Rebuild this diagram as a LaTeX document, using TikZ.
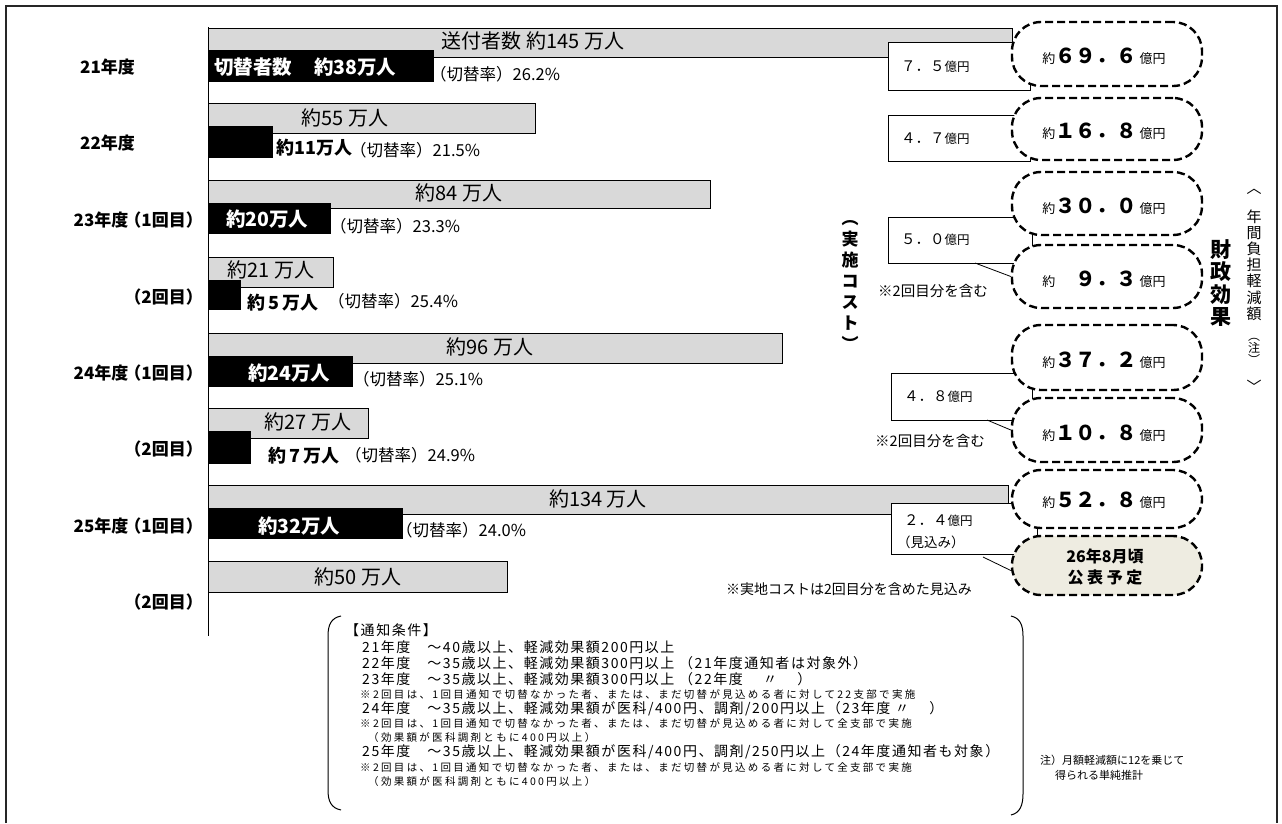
\documentclass[tikz,border=0pt]{standalone}
\usepackage{fontspec}
\setmainfont{Noto Sans CJK JP}
\newfontfamily\notefont{Noto Sans CJK JP}[LetterSpace=11]
\newfontfamily\smallnotefont{Noto Sans CJK JP}[LetterSpace=22]
\definecolor{barg}{HTML}{D9D9D9}
\definecolor{beige}{HTML}{EEECE1}
\newcommand{\fsz}[1]{\fontsize{#1}{#1}\selectfont}
\tikzset{
  gbar/.style={draw=black, line width=1pt, fill=barg, inner sep=0pt, anchor=north west},
  bbar/.style={draw=black, fill=black, inner sep=0pt, anchor=north west},
  txt/.style={inner sep=0pt},
  ylab/.style={inner sep=0pt, font=\fsz{17}\bfseries},
  gtxt/.style={inner sep=0pt, font=\fsz{20}},
  wtxt/.style={inner sep=0pt, anchor=west, text=white, font=\fsz{19.5}\bfseries},
  btxt/.style={inner sep=0pt, anchor=west, font=\fsz{18}\bfseries},
  rtxt/.style={inner sep=0pt, anchor=west, font=\fsz{16.5}},
  cbox/.style={draw=black, line width=0.8pt, fill=white, inner sep=0pt, anchor=north west},
  ctxt/.style={inner sep=0pt, anchor=west, font=\fsz{14.5}},
  oval/.style={draw=black, line width=2.4pt, dash pattern=on 8pt off 4pt, fill=white,
     rounded corners=29pt, inner sep=0pt, minimum width=190pt},
  lead/.style={draw=black, line width=0.8pt},
  note/.style={inner sep=0pt, anchor=west, font=\fsz{14}\notefont},
  snote/.style={inner sep=0pt, anchor=west, font=\fsz{10.5}\smallnotefont},
}
\newcommand{\oku}[2][約]{{\fsz{13}#1}{\fsz{20.5}\bfseries #2}{\fsz{13}\,億円}}
\begin{document}
\begin{tikzpicture}[x=1pt,y=-1pt]
\useasboundingbox (0,0) rectangle (1282,823);
% frame
\draw[line width=2pt, black!85] (6,823) -- (6,6) -- (1277,6) -- (1277,823);

% bars
\node[gbar, minimum width=804pt, minimum height=29pt] (g1) at (208,28) {};
\node[bbar, minimum width=225pt, minimum height=31pt] (b1) at (208,50) {};
\node[gbar, minimum width=327pt, minimum height=30pt] (g2) at (208,103) {};
\node[bbar, minimum width=64pt, minimum height=31pt] (b2) at (208,126) {};
\node[gbar, minimum width=502pt, minimum height=28pt] (g3) at (208,180) {};
\node[bbar, minimum width=122pt, minimum height=30pt] (b3) at (208,203) {};
\node[gbar, minimum width=125pt, minimum height=30pt] (g4) at (208,257) {};
\node[bbar, minimum width=32pt, minimum height=29pt] (b4) at (208,280) {};
\node[gbar, minimum width=574pt, minimum height=30pt] (g5) at (208,333) {};
\node[bbar, minimum width=144pt, minimum height=30pt] (b5) at (208,356) {};
\node[gbar, minimum width=160pt, minimum height=30pt] (g6) at (208,408) {};
\node[bbar, minimum width=42pt, minimum height=32pt] (b6) at (208,431) {};
\node[gbar, minimum width=800pt, minimum height=29pt] (g7) at (208,485) {};
\node[bbar, minimum width=194pt, minimum height=30pt] (b7) at (208,508) {};
\node[gbar, minimum width=299pt, minimum height=31pt] (g8) at (208,561) {};
% axis
\coordinate (axtop) at (208,27);
\coordinate (axbot) at (208,636);
\draw[line width=1pt] (axtop) -- (axbot);

% year labels
\node[ylab, anchor=west] (y21) at (80,67) {21年度};
\node[ylab, anchor=west] (y22) at (80,143) {22年度};
\node[ylab, anchor=east] (y23a) at (203,220) {23年度\kern-4pt（1回目）};
\node[ylab, anchor=east] (y23b) at (203,297) {（2回目）};
\node[ylab, anchor=east] (y24a) at (203,373) {24年度\kern-4pt（1回目）};
\node[ylab, anchor=east] (y24b) at (203,449) {（2回目）};
\node[ylab, anchor=east] (y25a) at (203,526) {25年度\kern-4pt（1回目）};
\node[ylab, anchor=east] (y25b) at (203,602) {（2回目）};

% gray bar texts
\node[gtxt] (t1) at (533,41) {送付者数 約145 万人};
\node[gtxt] (t2) at (345,118) {約55 万人};
\node[gtxt] (t3) at (459,193) {約84 万人};
\node[gtxt] (t4) at (271,270) {約21 万人};
\node[gtxt] (t5) at (490,347) {約96 万人};
\node[gtxt] (t6) at (308,422) {約27 万人};
\node[gtxt] (t7) at (598,499) {約134 万人};
\node[gtxt] (t8) at (358,577) {約50 万人};

% switch counts
\node[wtxt] (s1) at (214,67) {切替者数\hspace{22pt}約38万人};
\node[rtxt] (r1) at (430,74) {（切替率）26.2\%};
\node[btxt] (s2) at (276,148) {約11万人};
\node[rtxt] (r2) at (350,150) {（切替率）21.5\%};
\node[wtxt] (s3) at (226,219) {約20万人};
\node[rtxt] (r3) at (330,226) {（切替率）23.3\%};
\node[btxt] (s4) at (247,303) {約\,5\,万人};
\node[rtxt] (r4) at (328,301) {（切替率）25.4\%};
\node[wtxt] (s5) at (248,373) {約24万人};
\node[rtxt] (r5) at (353,379) {（切替率）25.1\%};
\node[btxt] (s6) at (268,456) {約\,7\,万人};
\node[rtxt] (r6) at (345,455) {（切替率）24.9\%};
\node[wtxt] (s7) at (258,526) {約32万人};
\node[rtxt] (r7) at (396,530) {（切替率）24.0\%};

% cost boxes
\node[cbox, minimum width=142pt, minimum height=48pt] (c1) at (888,42) {};
\node[cbox, minimum width=142pt, minimum height=46pt] (c2) at (888,115) {};
\node[cbox, minimum width=144pt, minimum height=46pt] (c3) at (888,217) {};
\node[cbox, minimum width=141pt, minimum height=47pt] (c4) at (891,373) {};
\node[cbox, minimum width=146pt, minimum height=51pt] (c5) at (891,503) {};

% leader lines
\coordinate (l3a) at (975,263);
\coordinate (l4a) at (987,420);
\coordinate (l5a) at (983,557);

% ovals
\node[oval, minimum height=64pt] (o1) at (1107,54) {};
\node[oval, minimum height=62pt] (o2) at (1107,129) {};
\node[oval, minimum height=63pt] (o3) at (1107,203.5) {};
\node[oval, minimum height=63pt] (o4) at (1107,276.5) {};
\node[oval, minimum height=65pt] (o5) at (1107,357.5) {};
\node[oval, minimum height=64pt] (o6) at (1107,430) {};
\node[oval, minimum height=58pt] (o7) at (1107,499) {};
\node[oval, minimum height=59pt, fill=beige] (o8) at (1107,565.5) {};

\draw[lead] (l3a) -- (o4.west);
\draw[lead] (l4a) -- (o6.west);
\draw[lead] (l5a) -- ([yshift=-5pt]o8.west);

% box texts
\node[ctxt] (ct1) at (901,67) {７．５{\fsz{12.5}億円}};
\node[ctxt] (ct2) at (901,139) {４．７{\fsz{12.5}億円}};
\node[ctxt] (ct3) at (901,240) {５．０{\fsz{12.5}億円}};
\node[ctxt] (ct4) at (904,397) {４．８{\fsz{12.5}億円}};
\node[ctxt] (ct5) at (904,521) {２．４{\fsz{12.5}億円}};
\node[inner sep=0pt, anchor=west, font=\fsz{13.5}] (ct5b) at (897,542) {（見込み）};

% oval texts
\node[txt] (ot1) at (1104,56) {\oku{６９．６}};
\node[txt] (ot2) at (1104,131) {\oku{１６．８}};
\node[txt] (ot3) at (1104,206) {\oku{３０．０}};
\node[txt] (ot4) at (1104,279) {\oku{　９．３}};
\node[txt] (ot5) at (1104,360) {\oku{３７．２}};
\node[txt] (ot6) at (1104,433) {\oku{１０．８}};
\node[txt] (ot7) at (1104,500) {\oku{５２．８}};
\node[txt, align=center, font=\fontsize{16}{21}\selectfont\bfseries] (ot8) at (1105,567) {26年8月頃\\公 表 予 定};

% remarks
\node[txt, font=\fsz{14.5}] (rm1) at (933,291) {※2回目分を含む};
\node[txt, font=\fsz{14.5}] (rm2) at (930,441) {※2回目分を含む};
\node[txt, font=\fsz{14}] (rm3) at (849,589) {※実地コストは2回目分を含めた見込み};

% vertical texts
\node[txt, align=center, font=\fontsize{17}{21}\selectfont\bfseries] (vcost) at (850,285) {︵\\実\\施\\コ\\ス\\ト\\︶};
\node[txt, align=center, font=\fontsize{21}{22.5}\selectfont\bfseries] (vfin) at (1221,283) {財\\政\\効\\果};
\node[txt, font=\fsz{15}] (vpa) at (1254,192) {︿};
\node[txt, align=center, font=\fontsize{15}{16.2}\selectfont] (vann) at (1254,265) {年\\間\\負\\担\\軽\\減\\額};
\node[txt, align=center, font=\fontsize{12}{10}\selectfont] (vnote) at (1254,351) {︵\\注\\︶};
\node[txt, font=\fsz{15}] (vpb) at (1254,386) {﹀};

% notes brackets
\draw[line width=1pt] (341,616) .. controls (331,618) and (328,625) .. (328,636) -- (328,790) .. controls (328,801) and (331,808) .. (341,810);
\draw[line width=1pt] (1011,616) .. controls (1020,618) and (1023,625) .. (1023,636) -- (1023,794) .. controls (1023,805) and (1020,813) .. (1011,815);

% notes
\node[note] (n0) at (345,630) {【通知条件】};
\node[note] (n1) at (362,647) {21年度　〜40歳以上、軽減効果額200円以上};
\node[note] (n2) at (362,663) {22年度　〜35歳以上、軽減効果額300円以上 （21年度通知者は対象外）};
\node[note] (n3) at (362,679) {23年度　〜35歳以上、軽減効果額300円以上 （22年度　 〃 　）};
\node[snote] (n4) at (360,694) {※2回目は、1回目通知で切替なかった者、または、まだ切替が見込める者に対して22支部で実施};
\node[note] (n5) at (362,709) {24年度　〜35歳以上、軽減効果額が医科/400円、調剤/200円以上（23年度 〃 　）};
\node[snote] (n6) at (360,723) {※2回目は、1回目通知で切替なかった者、または、まだ切替が見込める者に対して全支部で実施};
\node[snote] (n7) at (368,737) {（効果額が医科調剤ともに400円以上）};
\node[note] (n8) at (362,752) {25年度　〜35歳以上、軽減効果額が医科/400円、調剤/250円以上（24年度通知者も対象）};
\node[snote] (n9) at (360,767) {※2回目は、1回目通知で切替なかった者、または、まだ切替が見込める者に対して全支部で実施};
\node[snote] (n10) at (368,781) {（効果額が医科調剤ともに400円以上）};

\node[txt, anchor=west, font=\fsz{11}] (fn1) at (1040,760) {注）月額軽減額に12を乗じて};
\node[txt, anchor=west, font=\fsz{11}] (fn2) at (1055,775) {得られる単純推計};
\end{tikzpicture}
\end{document}
